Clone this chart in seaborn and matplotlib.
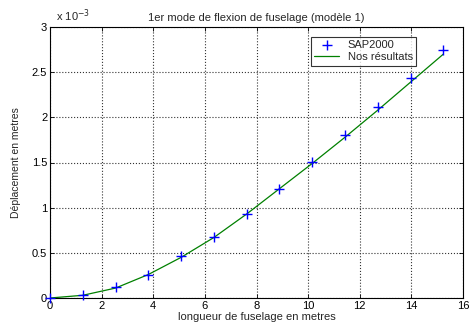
import matplotlib
matplotlib.use("Agg")
import matplotlib.pyplot as plt
import seaborn as sns
import pandas as pd

# Data (displacement in units of 1e-3 m)
x_pos = [0, 1.27, 2.54, 3.81, 5.08, 6.35, 7.62, 8.89, 10.16, 11.43, 12.70, 13.97, 15.24]
sap2000 = [0, 0.03, 0.12, 0.26, 0.46, 0.68, 0.93, 1.21, 1.51, 1.80, 2.11, 2.43, 2.75]
nos_resultats = [0, 0.03, 0.11, 0.26, 0.45, 0.67, 0.93, 1.21, 1.49, 1.78, 2.08, 2.39, 2.70]
x_ticks = [0, 2, 4, 6, 8, 10, 12, 14, 16]
y_ticks = [0, 0.5, 1, 1.5, 2, 2.5, 3]

sns.set_theme(style="white")
plt.rcParams['font.family'] = ['Liberation Sans', 'DejaVu Sans']

df = pd.DataFrame({"x": x_pos, "sap": sap2000, "nos": nos_resultats})

fig = plt.figure(figsize=(4.7, 3.28), dpi=100)
ax = fig.add_axes([50/470, 1 - 298/328, 413/470, 271/328])

sns.scatterplot(data=df, x="x", y="sap", ax=ax, marker="+", color="blue",
                s=45, linewidth=1.0, label="SAP2000", zorder=3, clip_on=False)
sns.lineplot(data=df, x="x", y="nos", ax=ax, color="green", linewidth=0.9,
             label="Nos résultats")

ax.set_xlim(0, 16)
ax.set_ylim(0, 3)
ax.set_xticks(x_ticks)
ax.set_yticks(y_ticks)
ax.set_xticklabels([str(t) for t in x_ticks], fontsize=8)
ax.set_yticklabels(["0", "0.5", "1", "1.5", "2", "2.5", "3"], fontsize=8)
ax.tick_params(direction="in", length=3, width=0.6, colors="black",
               top=True, right=True, bottom=True, left=True, pad=2)
ax.grid(True, linestyle=":", color="#333333", linewidth=0.8)
for s in ax.spines.values():
    s.set_color("black")
    s.set_linewidth(0.8)

ax.set_title("1er mode de flexion de fuselage (modèle 1)", fontsize=8, pad=4)
ax.set_xlabel("longueur de fuselage en metres", fontsize=8, labelpad=1)
ax.set_ylabel("Déplacement en metres", fontsize=7.5, labelpad=8)
ax.text(0.0, 1.01, "  x 10$^{-3}$", transform=ax.transAxes, fontsize=8,
        ha="left", va="bottom")

leg = ax.legend(loc="upper right", bbox_to_anchor=(0.9, 0.985), fontsize=8,
                frameon=True, fancybox=False, edgecolor="black",
                borderpad=0.3, handlelength=2.2, labelspacing=0.2)
leg.get_frame().set_linewidth(0.8)

fig.savefig("out.png", dpi=100)
